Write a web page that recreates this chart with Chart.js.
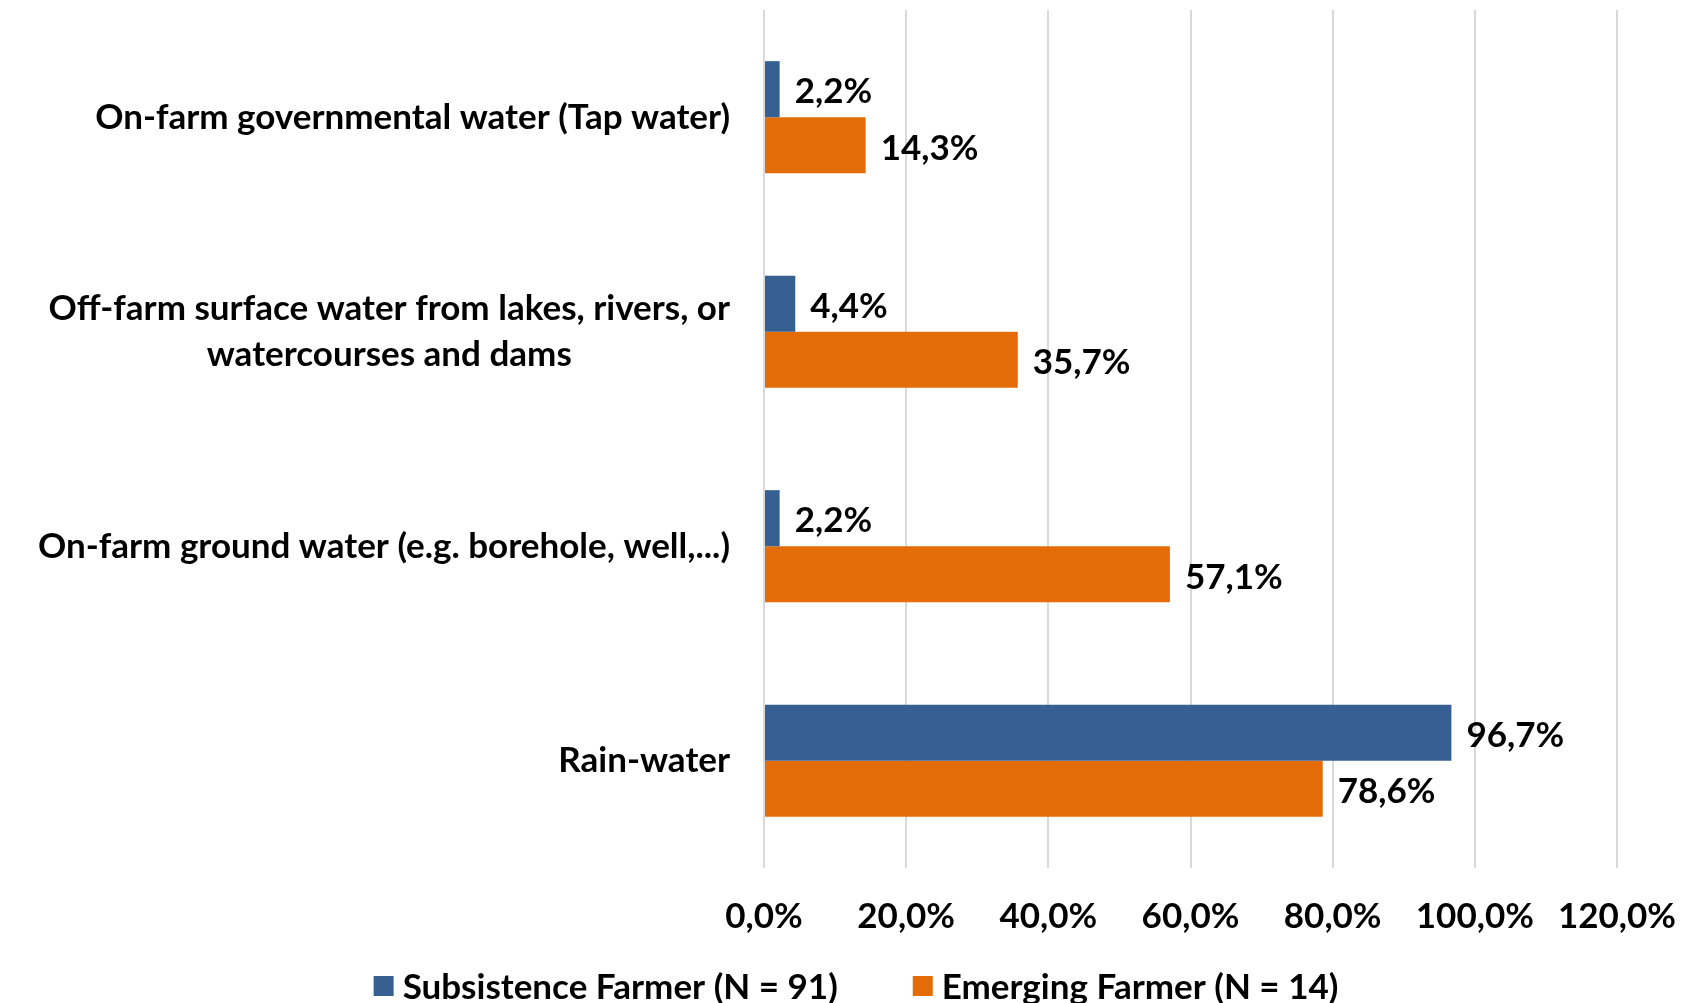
<!DOCTYPE html>
<html>
<head>
<meta charset="utf-8">
<script src="https://cdn.jsdelivr.net/npm/chart.js@4.4.1/dist/chart.umd.min.js"></script>
<style>
  html, body { margin: 0; padding: 0; background: #fff; overflow: hidden; }
  #wrap { width: 1694px; height: 1003px; position: relative; }
</style>
</head>
<body>
<div id="wrap"><canvas id="chart"></canvas></div>
<script>
// ── Données ─────────────────────────────────────────────────────────
const categories = [
  ["On-farm governmental water (Tap water)"],
  ["Off-farm surface water from lakes, rivers, or", "watercourses and dams"],
  ["On-farm ground water (e.g. borehole, well,...)"],
  ["Rain-water"],
];
const seriesNames = ["Subsistence Farmer (N = 91)", "Emerging Farmer (N = 14)"];
const subsistence = [2.2, 4.4, 2.2, 96.7];
const emerging = [14.3, 35.7, 57.1, 78.6];
const xMin = 0, xMax = 120, xStep = 20;

const COLORS = ["#366092", "#E36C09"];
const FAM = "Lato, 'Open Sans', sans-serif";
const FS = 35;

Chart.defaults.font.family = FAM;
Chart.defaults.color = "#000";

const pct = v => v.toFixed(1).replace(".", ",") + "%";

// Libellés de l'axe Y : bloc aligné à droite, lignes centrées
const yLabels = {
  id: "yLabels",
  afterDraw(chart) {
    const { ctx, chartArea, scales: { y } } = chart;
    ctx.save();
    ctx.font = `bold ${FS}px ${FAM}`;
    ctx.fillStyle = "#000";
    ctx.textAlign = "center";
    ctx.textBaseline = "middle";
    const lh = 46;
    categories.forEach((lines, i) => {
      const py = y.getPixelForTick(i);
      const w = Math.max(...lines.map(l => ctx.measureText(l).width));
      const cx = chartArea.left - 34 - w / 2;
      const y0 = py - (lines.length - 1) * lh / 2;
      lines.forEach((l, k) => ctx.fillText(l, cx, y0 + k * lh));
    });
    ctx.restore();
  }
};

// Valeurs en bout de barre
const barLabels = {
  id: "barLabels",
  afterDatasetsDraw(chart) {
    const { ctx } = chart;
    ctx.save();
    ctx.font = `bold ${FS}px ${FAM}`;
    ctx.fillStyle = "#000";
    ctx.textAlign = "left";
    ctx.textBaseline = "middle";
    chart.data.datasets.forEach((ds, di) => {
      chart.getDatasetMeta(di).data.forEach((el, i) => {
        ctx.fillText(pct(ds.data[i]), el.x + 15, el.y + 3);
      });
    });
    ctx.restore();
  }
};

// Légende en bas (écart large entre les entrées)
const bottomLegend = {
  id: "bottomLegend",
  afterDraw(chart) {
    const { ctx } = chart;
    ctx.save();
    ctx.font = `bold ${FS}px ${FAM}`;
    ctx.textBaseline = "middle";
    ctx.textAlign = "left";
    const box = 20, gapTxt = 9, gapItem = 75;
    const items = chart.data.datasets.map(ds => ({
      text: ds.label, color: ds.backgroundColor, w: ctx.measureText(ds.label).width
    }));
    const total = items.reduce((s, it) => s + box + gapTxt + it.w, 0) + gapItem * (items.length - 1);
    let x = chart.width / 2 + 9 - total / 2;
    const cy = 986;
    items.forEach(it => {
      ctx.fillStyle = it.color;
      ctx.fillRect(x, cy - box / 2, box, box);
      ctx.fillStyle = "#000";
      ctx.fillText(it.text, x + box + gapTxt, cy + 2);
      x += box + gapTxt + it.w + gapItem;
    });
    ctx.restore();
  }
};

new Chart(document.getElementById("chart"), {
  type: "bar",
  data: {
    labels: categories.map(c => c.join(" ")),
    datasets: [
      { label: seriesNames[0], data: subsistence, backgroundColor: COLORS[0] },
      { label: seriesNames[1], data: emerging, backgroundColor: COLORS[1] },
    ]
  },
  options: {
    indexAxis: "y",
    responsive: true, maintainAspectRatio: false,
    animation: false,
    datasets: { bar: { categoryPercentage: 0.523, barPercentage: 1.0 } },
    layout: { padding: { top: 10, right: 0, bottom: 37, left: 0 } },
    plugins: {
      legend: { display: false },
      tooltip: { enabled: false },
    },
    scales: {
      x: {
        min: xMin, max: xMax,
        ticks: {
          stepSize: xStep,
          padding: 28,
          color: "#000",
          font: { size: FS, weight: "bold" },
          callback: v => pct(v),
        },
        grid: { color: "#D9D9D9", lineWidth: 2, drawTicks: false },
        border: { display: false },
        afterFit: s => { s.paddingLeft = 0; s.paddingRight = 77; },
      },
      y: {
        ticks: { display: false },
        grid: { display: false },
        border: { display: false },
        afterFit: s => { s.width = 764; },
      }
    }
  },
  plugins: [yLabels, barLabels, bottomLegend]
});
</script>
</body>
</html>
